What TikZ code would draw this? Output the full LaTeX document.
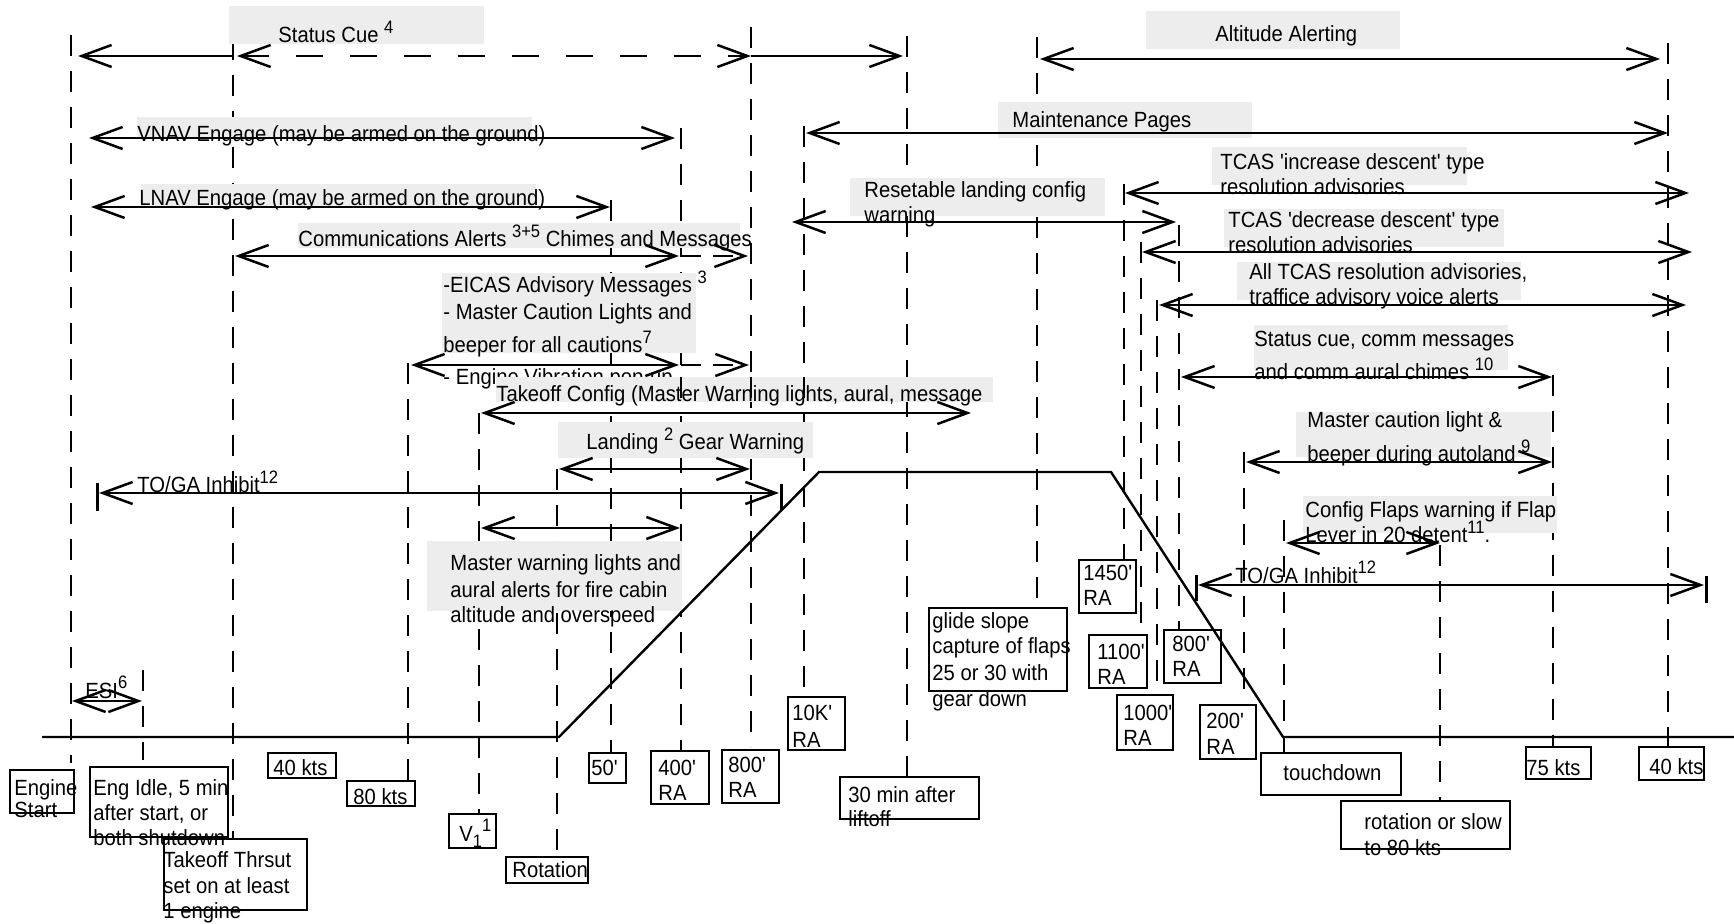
\documentclass[tikz,border=0pt]{standalone}
\usepackage{fontspec}
\newfontfamily\lf{Liberation Sans}[FakeStretch=0.92]
\usetikzlibrary{arrows.meta}
\newcommand\supr[1]{\raisebox{0.45em}{\fontsize{9}{9}\selectfont #1}}
\newcommand\subr[1]{\raisebox{-0.3em}{\fontsize{9}{9}\selectfont #1}}
\tikzset{
 >={Straight Barb[length=15pt,width=11pt]},
 vl/.style={line width=1.4pt, dash pattern=on 10.5pt off 7.5pt},
 ln/.style={line width=1.25pt},
 gb/.style={fill=black!7, draw=none},
 bx/.style={draw=black, line width=1.4pt},
 lb/.style={anchor=base west, inner sep=0pt, font=\lf\fontsize{11}{13}\selectfont},
 prof/.style={line width=1.2pt},
 tickmark/.style={line width=1.5pt},
}
\begin{document}
\begin{tikzpicture}[x=0.5pt,y=-0.5pt]
\useasboundingbox (0,0) rectangle (1734,924);
% vertical dashed lines
\draw[vl] (71,35) -- (71,763);
\draw[vl] (233,39) -- (233,839);
\draw[vl] (751,27) -- (751,747);
\draw[vl] (907,36) -- (907,777);
\draw[vl] (1037,37) -- (1037,608);
\draw[vl] (804,126) -- (804,697);
\draw[vl] (681,128) -- (681,751);
\draw[vl] (611,200) -- (611,753);
\draw[vl] (1124,184) -- (1124,560);
\draw[vl] (1141,242) -- (1141,635);
\draw[vl] (1157,300) -- (1157,695);
\draw[vl] (1179,225) -- (1179,630);
\draw[vl] (1244,452) -- (1244,705);
\draw[vl] (1284,520) -- (1284,753);
\draw[vl] (1440,545) -- (1440,801);
\draw[vl] (1553,375) -- (1553,747);
\draw[vl] (1668,43) -- (1668,747);
\draw[vl] (408,363) -- (408,781);
\draw[vl] (479,413) -- (479,814);
\draw[vl] (557,469) -- (557,857);
\draw[vl] (143,670) -- (143,760);
% gray label boxes
\fill[gb] (229,6) rectangle (484,44);
\fill[gb] (1146,11) rectangle (1400,49);
\fill[gb] (998,102) rectangle (1252,138);
\fill[gb] (137,117) rectangle (532,138);
\fill[gb] (141,184) rectangle (536,207);
\fill[gb] (298,223) rectangle (740,248);
\fill[gb] (442,273) rectangle (696,353);
\fill[gb] (558,422) rectangle (813,458);
\fill[gb] (427,541) rectangle (682,611);
\fill[gb] (850,178) rectangle (1105,216);
\fill[gb] (1212,147) rectangle (1467,185);
\fill[gb] (1224,209) rectangle (1504,247);
\fill[gb] (1237,262) rectangle (1521,300);
\fill[gb] (1254,325) rectangle (1508,370);
\fill[gb] (1296,412) rectangle (1551,457);
\fill[gb] (1303,496) rectangle (1557,533);
% flight profile
\draw[prof] (42,737) -- (559,737) -- (819,472) -- (1111,472) -- (1283,737) -- (1734,737);
% horizontal arrows
\draw[ln,->] (233,56) -- (78,56);
\draw[ln,<->,dash pattern=on 13.5pt off 13.5pt] (237,56) -- (751,56);
\draw[ln,->] (751,56) -- (903,56);
\draw[ln,<->] (1040,59) -- (1660,59);
\draw[ln,<->] (806,133) -- (1668,133);
\draw[ln,<->] (89,138) -- (675,138);
\draw[ln,<->] (91,207) -- (610,207);
\draw[ln,<->] (1125,193) -- (1689,193);
\draw[ln,<->] (792,222) -- (1176,222);
\draw[ln,<->] (235,256) -- (679,256);
\draw[ln,->,dash pattern=on 10pt off 6pt] (681,256) -- (748,256);
\draw[ln,<->] (1142,252) -- (1692,252);
\draw[ln,<->] (1159,305) -- (1686,305);
\draw[ln,<->] (411,365) -- (679,365);
\draw[ln,->,dash pattern=on 10pt off 6pt] (681,365) -- (749,365);
\draw[ln,<->] (1181,377) -- (1552,377);
\draw[ln,<->] (559,469) -- (750,469);
\draw[ln,<->] (99,493) -- (779,493);
\draw[tickmark] (97,483) -- (97,511);
\draw[tickmark] (781,484) -- (781,510);
\draw[ln,<->] (1246,462) -- (1552,462);
\draw[ln,<->] (481,528) -- (680,528);
\draw[ln,<->] (1286,543) -- (1440,543);
\draw[ln,<->] (1198,585) -- (1704,585);
\draw[tickmark] (1196,575) -- (1196,601);
\draw[tickmark] (1706,576) -- (1706,603);
\draw[ln,<->] (72,701) -- (142,701);
% labels
\node[lb] (l1) at (278,43) {Status Cue \supr{4}};
\node[lb] (l2) at (1215,42) {Altitude Alerting};
\node[lb] (l3) at (1012,128) {Maintenance Pages};
\node[lb] (l4) at (137,142) {VNAV Engage (may be armed on the ground)};
\node[lb] (l5) at (139,206) {LNAV Engage (may be armed on the ground)};
\node[lb] (l6) at (298,247) {Communications Alerts \supr{3+5} Chimes and Messages};
\node[lb] (l7a) at (443,293) {-EICAS Advisory Messages \supr{3}};
\node[lb] (l7b) at (443,320) {- Master Caution Lights and};
\node[lb] (l7c) at (443,353) {beeper for all cautions\supr{7}};
\node[lb] (l7d) at (443,385) {- Engine Vibration pop-up};
\fill[gb] (496,377) rectangle (993,402);
\draw[vl] (681,377) -- (681,402);
\draw[vl] (751,377) -- (751,402);
\draw[vl] (804,377) -- (804,402);
\node[lb] (l8) at (496,402) {Takeoff Config (Master Warning lights, aural, message};
\draw[ln,<->] (481,413) -- (971,413);
\node[lb] (l9) at (586,450) {Landing \supr{2} Gear Warning};
\node[lb] (l10a) at (450,570) {Master warning lights and};
\node[lb] (l10b) at (450,597) {aural alerts for fire cabin};
\node[lb] (l10c) at (450,622) {altitude and overspeed};
\node[lb] (l11) at (137,493) {TO/GA Inhibit\supr{12}};
\node[lb] (l12) at (85,698) {ESI\supr{6}};
\node[lb] (l13a) at (864,198) {Resetable landing config};
\node[lb] (l13b) at (864,223) {warning};
\node[lb] (l14a) at (1220,170) {TCAS 'increase descent' type};
\node[lb] (l14b) at (1220,195) {resolution advisories};
\node[lb] (l15a) at (1228,228) {TCAS 'decrease descent' type};
\node[lb] (l15b) at (1228,253) {resolution advisories};
\node[lb] (l16a) at (1249,280) {All TCAS resolution advisories,};
\node[lb] (l16b) at (1249,305) {traffice advisory voice alerts};
\node[lb] (l17a) at (1254,347) {Status cue, comm messages};
\node[lb] (l17b) at (1254,380) {and comm aural chimes \supr{10}};
\node[lb] (l18a) at (1307,428) {Master caution light \&};
\node[lb] (l18b) at (1307,462) {beeper during autoland \supr{9}};
\node[lb] (l19a) at (1305,518) {Config Flaps warning if Flap};
\node[lb] (l19b) at (1305,543) {Lever in 20 detent\supr{11}.};
\node[lb] (l20) at (1235,583) {TO/GA Inhibit\supr{12}};
% event boxes
\draw[bx] (10,770) rectangle (74,813);
\node[lb] (b1a) at (14,795) {Engine};
\node[lb] (b1b) at (14,817) {Start};
\draw[bx] (90,767) rectangle (228,837);
\node[lb] (b2a) at (93,795) {Eng Idle, 5 min};
\node[lb] (b2b) at (93,820) {after start, or};
\node[lb] (b2c) at (93,845) {both shutdown};
\draw[bx] (164,839) rectangle (307,910);
\node[lb] (b3a) at (163,867) {Takeoff Thrsut};
\node[lb] (b3b) at (163,893) {set on at least};
\node[lb] (b3c) at (163,918) {1 engine};
\draw[bx] (268,753) rectangle (336,778);
\node[lb] (b4) at (273,775) {40 kts};
\draw[bx] (347,781) rectangle (415,806);
\node[lb] (b5) at (353,804) {80 kts};
\draw[bx] (449,814) rectangle (496,848);
\node[lb] (b6) at (459,841) {V\subr{1}\supr{1}};
\draw[bx] (506,857) rectangle (588,883);
\node[lb] (b7) at (512,877) {Rotation};
\draw[bx] (589,753) rectangle (626,783);
\node[lb] (b8) at (591,775) {50'};
\draw[bx] (651,751) rectangle (709,804);
\node[lb] (b9a) at (658,775) {400'};
\node[lb] (b9b) at (658,800) {RA};
\draw[bx] (722,750) rectangle (779,803);
\node[lb] (b10a) at (728,772) {800'};
\node[lb] (b10b) at (728,797) {RA};
\draw[bx] (788,697) rectangle (845,750);
\node[lb] (b11a) at (792,720) {10K'};
\node[lb] (b11b) at (792,747) {RA};
\draw[bx] (840,777) rectangle (979,819);
\node[lb] (b12a) at (848,802) {30 min after};
\node[lb] (b12b) at (848,826) {liftoff};
\draw[bx] (929,608) rectangle (1067,691);
\node[lb] (b13a) at (932,628) {glide slope};
\node[lb] (b13b) at (932,653) {capture of flaps};
\node[lb] (b13c) at (932,680) {25 or 30 with};
\node[lb] (b13d) at (932,706) {gear down};
\draw[bx] (1079,560) rectangle (1136,613);
\node[lb] (b14a) at (1083,581) {1450'};
\node[lb] (b14b) at (1083,605) {RA};
\draw[bx] (1089,635) rectangle (1147,688);
\node[lb] (b15a) at (1097,659) {1100'};
\node[lb] (b15b) at (1097,684) {RA};
\draw[bx] (1117,695) rectangle (1173,750);
\node[lb] (b16a) at (1123,720) {1000'};
\node[lb] (b16b) at (1123,745) {RA};
\draw[bx] (1164,630) rectangle (1221,683);
\node[lb] (b17a) at (1172,651) {800'};
\node[lb] (b17b) at (1172,676) {RA};
\draw[bx] (1200,705) rectangle (1256,759);
\node[lb] (b18a) at (1206,728) {200'};
\node[lb] (b18b) at (1206,754) {RA};
\draw[bx] (1261,753) rectangle (1401,795);
\node[lb] (b19) at (1283,780) {touchdown};
\draw[bx] (1341,801) rectangle (1510,849);
\node[lb] (b20a) at (1364,829) {rotation or slow};
\node[lb] (b20b) at (1364,855) {to 80 kts};
\draw[bx] (1526,747) rectangle (1591,779);
\node[lb] (b21) at (1526,775) {75 kts};
\draw[bx] (1639,747) rectangle (1704,780);
\node[lb] (b22) at (1649,774) {40 kts};
\end{tikzpicture}
\end{document}
